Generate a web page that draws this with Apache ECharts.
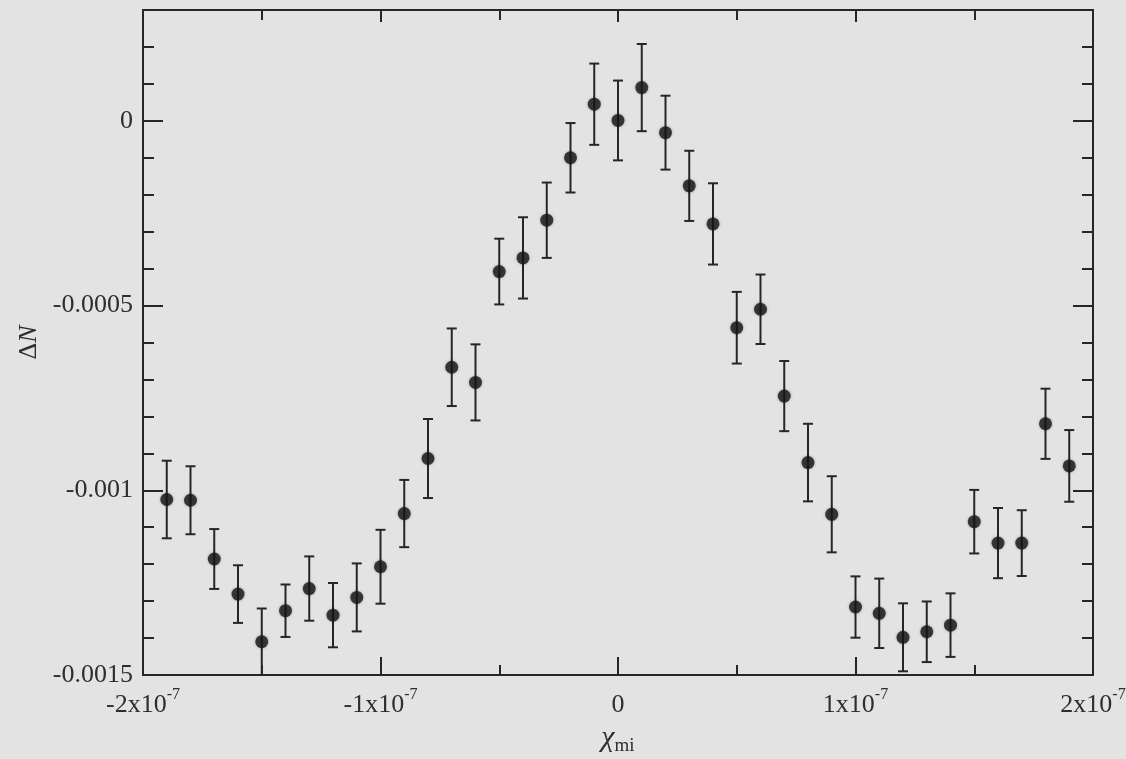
<!DOCTYPE html>
<html>
<head>
<meta charset="utf-8">
<title>ΔN vs χmi</title>
<script src="https://cdn.jsdelivr.net/npm/echarts@6/dist/echarts.min.js"></script>
<style>
  html, body { margin: 0; padding: 0; background: #e3e3e3; }
  #chart { width: 1126px; height: 759px; }
</style>
</head>
<body>
<div id="chart"></div>
<script>
// Measured points: χmi position, ΔN and its one-sigma error
const chiMi = [
  -1.9e-7, -1.8e-7, -1.7e-7, -1.6e-7, -1.5e-7, -1.4e-7, -1.3e-7, -1.2e-7, -1.1e-7, -1.0e-7,
  -0.9e-7, -0.8e-7, -0.7e-7, -0.6e-7, -0.5e-7, -0.4e-7, -0.3e-7, -0.2e-7, -0.1e-7, 0,
   0.1e-7,  0.2e-7,  0.3e-7,  0.4e-7,  0.5e-7,  0.6e-7,  0.7e-7,  0.8e-7,  0.9e-7, 1.0e-7,
   1.1e-7,  1.2e-7,  1.3e-7,  1.4e-7,  1.5e-7,  1.6e-7,  1.7e-7,  1.8e-7,  1.9e-7
];
const deltaN = [
  -0.001025, -0.001027, -0.001186, -0.001281, -0.001410, -0.001326, -0.001266, -0.001338, -0.001290, -0.001207,
  -0.001063, -0.000914, -0.000667, -0.000708, -0.000408, -0.000371, -0.000269, -0.000100,  0.000045,  0.000001,
   0.000090, -0.000032, -0.000176, -0.000279, -0.000560, -0.000510, -0.000745, -0.000925, -0.001065, -0.001316,
  -0.001333, -0.001398, -0.001383, -0.001365, -0.001085, -0.001143, -0.001143, -0.000820, -0.000934
];
const deltaNErr = [
  0.000105, 0.000092, 0.000081, 0.000078, 0.000090, 0.000071, 0.000087, 0.000087, 0.000092, 0.000100,
  0.000091, 0.000107, 0.000105, 0.000103, 0.000089, 0.000110, 0.000102, 0.000094, 0.000110, 0.000108,
  0.000118, 0.000100, 0.000095, 0.000110, 0.000097, 0.000094, 0.000095, 0.000105, 0.000103, 0.000083,
  0.000094, 0.000092, 0.000082, 0.000086, 0.000086, 0.000095, 0.000089, 0.000095, 0.000097
];

// Axis ticks and their labels
const xTickValues = [-2e-7, -1e-7, 0, 1e-7, 2e-7];
const xTickMantissa = ['-2x10', '-1x10', '0', '1x10', '2x10'];
const xTickExponent = ['-7', '-7', '', '-7', '-7'];
const yTickValues = [-0.0015, -0.001, -0.0005, 0];
const yTickLabels = ['-0.0015', '-0.001', '-0.0005', '0'];

const X_MIN = -2e-7, X_MAX = 2e-7, X_STEP = 1e-7;
const Y_MIN = -0.0015, Y_MAX = 0.0003, Y_MAJOR = 0.0005, Y_MINOR = 0.0001;

const INK = '#262626';
const TEXT = '#2e2e2e';
const SERIF = '"Liberation Serif", "DejaVu Serif", serif';

function xLabel(v) {
  const i = xTickValues.findIndex(t => Math.abs(t - v) < X_STEP * 1e-3);
  if (i < 0) return '';
  return xTickExponent[i]
    ? '{m|' + xTickMantissa[i] + '}{e|' + xTickExponent[i] + '}'
    : '{m|' + xTickMantissa[i] + '}{p|}';
}
function yLabel(v) {
  const i = yTickValues.findIndex(t => Math.abs(t - v) < Y_MINOR * 1e-3);
  return i < 0 ? '' : yTickLabels[i];
}

const points = chiMi.map((x, i) => [x, deltaN[i]]);
const bars = chiMi.map((x, i) => [x, deltaN[i], deltaNErr[i]]);

const lineStyle = { color: INK, width: 2 };

function yAxisDef(position, interval, tickLen, withLabels, withLine) {
  return {
    type: 'value', position, min: Y_MIN, max: Y_MAX, interval,
    axisLine: { show: withLine, onZero: false, lineStyle: { color: INK, width: 2 } },
    axisTick: { show: true, inside: true, length: tickLen, lineStyle },
    splitLine: { show: false },
    axisLabel: withLabels ? {
      show: true, margin: 10, formatter: yLabel,
      color: TEXT, fontFamily: SERIF, fontSize: 26
    } : { show: false }
  };
}

const chart = echarts.init(document.getElementById('chart'), null, { renderer: 'canvas' });
chart.setOption({
  backgroundColor: '#e3e3e3',
  animation: false,
  grid: { left: 143, right: 33, top: 10, bottom: 84, containLabel: false, outerBoundsMode: 'none' },
  xAxis: [
    {
      type: 'value', position: 'bottom', min: X_MIN, max: X_MAX, interval: X_STEP,
      axisLine: { onZero: false, lineStyle: { color: INK, width: 2 } },
      axisTick: { inside: true, length: 18, lineStyle },
      minorTick: { show: true, splitNumber: 2, length: 10, lineStyle },
      splitLine: { show: false },
      axisLabel: {
        margin: 12, formatter: xLabel, showMinLabel: true, showMaxLabel: true,
        rich: {
          m: { fontFamily: SERIF, fontSize: 26, color: TEXT },
          e: { fontFamily: SERIF, fontSize: 16, color: TEXT, padding: [0, 0, 20, 0] },
          p: { fontFamily: SERIF, fontSize: 16, padding: [0, 0, 20, 0] }
        }
      },
      name: '{c|χ}{s|mi}',
      nameLocation: 'middle', nameGap: 44,
      nameTextStyle: {
        rich: {
          c: { fontFamily: SERIF, fontSize: 30, fontStyle: 'italic', color: TEXT },
          s: { fontFamily: SERIF, fontSize: 19, color: TEXT, padding: [16, 0, 0, 0] }
        }
      }
    },
    {
      type: 'value', position: 'top', min: X_MIN, max: X_MAX, interval: X_STEP,
      axisLine: { onZero: false, lineStyle: { color: INK, width: 2 } },
      axisTick: { inside: true, length: 12, lineStyle },
      minorTick: { show: true, splitNumber: 2, length: 10, lineStyle },
      splitLine: { show: false },
      axisLabel: { show: false }
    }
  ],
  yAxis: [
    Object.assign(yAxisDef('left', Y_MAJOR, 20, true, true), {
      name: '{d|Δ}{n|N}', nameLocation: 'middle', nameGap: 98, nameRotate: 90,
      nameTextStyle: {
        rich: {
          d: { fontFamily: SERIF, fontSize: 26, color: TEXT },
          n: { fontFamily: SERIF, fontSize: 26, fontStyle: 'italic', color: TEXT }
        }
      }
    }),
    yAxisDef('left', Y_MINOR, 11, false, false),
    yAxisDef('right', Y_MAJOR, 20, false, true),
    yAxisDef('right', Y_MINOR, 11, false, false)
  ],
  series: [
    {
      type: 'custom',
      xAxisIndex: 0, yAxisIndex: 0,
      data: bars,
      clip: true,
      z: 2,
      renderItem: function (params, api) {
        const x = api.value(0), y = api.value(1), e = api.value(2);
        const top = api.coord([x, y + e]);
        const bot = api.coord([x, y - e]);
        const cap = 5;
        const style = { stroke: INK, lineWidth: 2 };
        return {
          type: 'group',
          children: [
            { type: 'line', shape: { x1: top[0], y1: top[1], x2: bot[0], y2: bot[1] }, style },
            { type: 'line', shape: { x1: top[0] - cap, y1: top[1], x2: top[0] + cap, y2: top[1] }, style },
            { type: 'line', shape: { x1: bot[0] - cap, y1: bot[1], x2: bot[0] + cap, y2: bot[1] }, style }
          ]
        };
      }
    },
    {
      type: 'scatter',
      xAxisIndex: 0, yAxisIndex: 0,
      data: points,
      symbol: 'circle',
      symbolSize: 13,
      z: 3,
      itemStyle: { color: '#151515', shadowBlur: 3, shadowColor: 'rgba(0,0,0,0.35)' }
    }
  ]
});
</script>
</body>
</html>
